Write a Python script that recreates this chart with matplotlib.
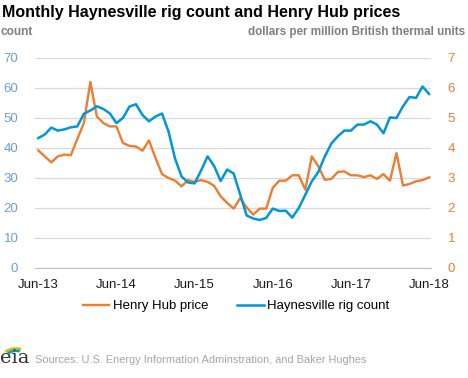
import numpy as np
import matplotlib.pyplot as plt
from matplotlib.patches import Arc

plt.rcParams['font.family'] = ['Liberation Sans', 'DejaVu Sans']

# monthly values, Jun-13 .. Jun-18
henry_hub = [3.92, 3.72, 3.52, 3.72, 3.78, 3.76, 4.30, 4.83, 6.20, 5.05, 4.83, 4.72,
             4.72, 4.17, 4.07, 4.05, 3.91, 4.25, 3.67, 3.13, 3.00, 2.91, 2.72, 2.93,
             2.87, 2.93, 2.87, 2.74, 2.39, 2.17, 1.98, 2.33, 2.02, 1.78, 1.98, 1.98,
             2.67, 2.91, 2.91, 3.09, 3.09, 2.61, 3.72, 3.39, 2.94, 2.97, 3.20, 3.22,
             3.09, 3.09, 3.03, 3.09, 2.97, 3.13, 2.91, 3.83, 2.75, 2.80, 2.89, 2.93,
             3.02]
rig_count = [43.3, 44.5, 46.8, 45.8, 46.2, 46.9, 47.2, 51.4, 52.5, 53.9, 53.0, 51.5,
             48.3, 50.0, 53.8, 54.6, 51.0, 48.9, 50.5, 51.5, 45.5, 36.5, 30.5, 28.5,
             28.2, 32.5, 37.2, 34.0, 29.0, 32.8, 31.5, 24.5, 17.5, 16.5, 16.0, 16.7,
             19.8, 19.0, 19.1, 16.8, 20.0, 24.4, 28.9, 32.0, 37.2, 41.5, 43.9, 45.8,
             45.8, 47.8, 47.8, 48.9, 47.8, 44.9, 50.2, 50.0, 53.9, 57.0, 56.7, 60.5,
             58.0]
tick_labels = ['Jun-13', 'Jun-14', 'Jun-15', 'Jun-16', 'Jun-17', 'Jun-18']

orange = '#ed7d31'
blue = '#0096d7'
months = np.arange(len(henry_hub))

fig = plt.figure(figsize=(4.68, 3.78), dpi=100)
ax = fig.add_axes([35/468, 1-268/378, 396/468, 210/378])
ax2 = ax.twinx()

# gridlines live on the price axis (drawn underneath)
ax.set_zorder(ax2.get_zorder() + 1)
ax.patch.set_visible(False)

ax2.plot(months, henry_hub, color=orange, lw=1.7, label='Henry Hub price')
ax.plot(months, rig_count, color=blue, lw=1.8, label='Haynesville rig count',
        solid_joinstyle='round')

ax.set_ylim(0, 70)
ax2.set_ylim(0, 7)
ax.set_xlim(-0.5, 60.3)
ax.set_yticks(np.arange(0, 71, 10))
ax2.set_yticks(np.arange(0, 8, 1))
ax2.yaxis.grid(True, color='#d9d9d9', lw=0.9)
ax2.set_axisbelow(True)
ax.set_xticks(np.arange(0, 61, 12))
ax.set_xticklabels(tick_labels)

for a in (ax, ax2):
    for s in a.spines.values():
        s.set_visible(False)
    a.tick_params(length=0)
ax.spines['bottom'].set_visible(True)
ax.spines['bottom'].set_color('#bfbfbf')
ax.tick_params(axis='y', labelcolor='#6a9fd8', labelsize=9.5, pad=12)
ax2.tick_params(axis='y', labelcolor=orange, labelsize=9.5, pad=12)
ax.tick_params(axis='x', labelcolor='#1a1a1a', labelsize=9.5, pad=8)

fig.text(0.004, 1-12/378, 'Monthly Haynesville rig count and Henry Hub prices',
         fontsize=11.5, fontweight='bold', va='center', ha='left')
fig.text(0.002, 1-32/378, 'count', fontsize=8.6, fontweight='bold', color='#808080',
         va='center', ha='left')
fig.text(0.994, 1-32/378, 'dollars per million British thermal units', fontsize=8.4,
         fontweight='bold', color='#808080', va='center', ha='right')

h1, l1 = ax2.get_legend_handles_labels()
h2, l2 = ax.get_legend_handles_labels()
fig.legend(h1 + h2, l1 + l2, loc='center', bbox_to_anchor=(236/468, 1-306/378), ncol=2,
           frameon=False, fontsize=9.5, handlelength=2.0, handletextpad=0.25,
           columnspacing=2.2)

# eia logo
fig.text(0.0, 1-358/378, 'eia', family='DejaVu Serif', fontsize=14, color='#333333',
         va='center', ha='left')
lax = fig.add_axes([0, 1-362/378, 30/468, 25/378])
lax.set_xlim(0, 30)
lax.set_ylim(0, 25)
lax.axis('off')
for r, c in [(14, '#f5b800'), (12, '#8dc63f'), (10, '#0096d7')]:
    lax.add_patch(Arc((16, 4), 2*r, 1.4*r, theta1=60, theta2=150, color=c, lw=1.6))

fig.text(35/468, 1-360/378,
         'Sources: U.S. Energy Information Adminstration, and Baker Hughes',
         fontsize=7.9, color='#a6a6a6', va='center', ha='left')

plt.savefig('out.png', dpi=100)
